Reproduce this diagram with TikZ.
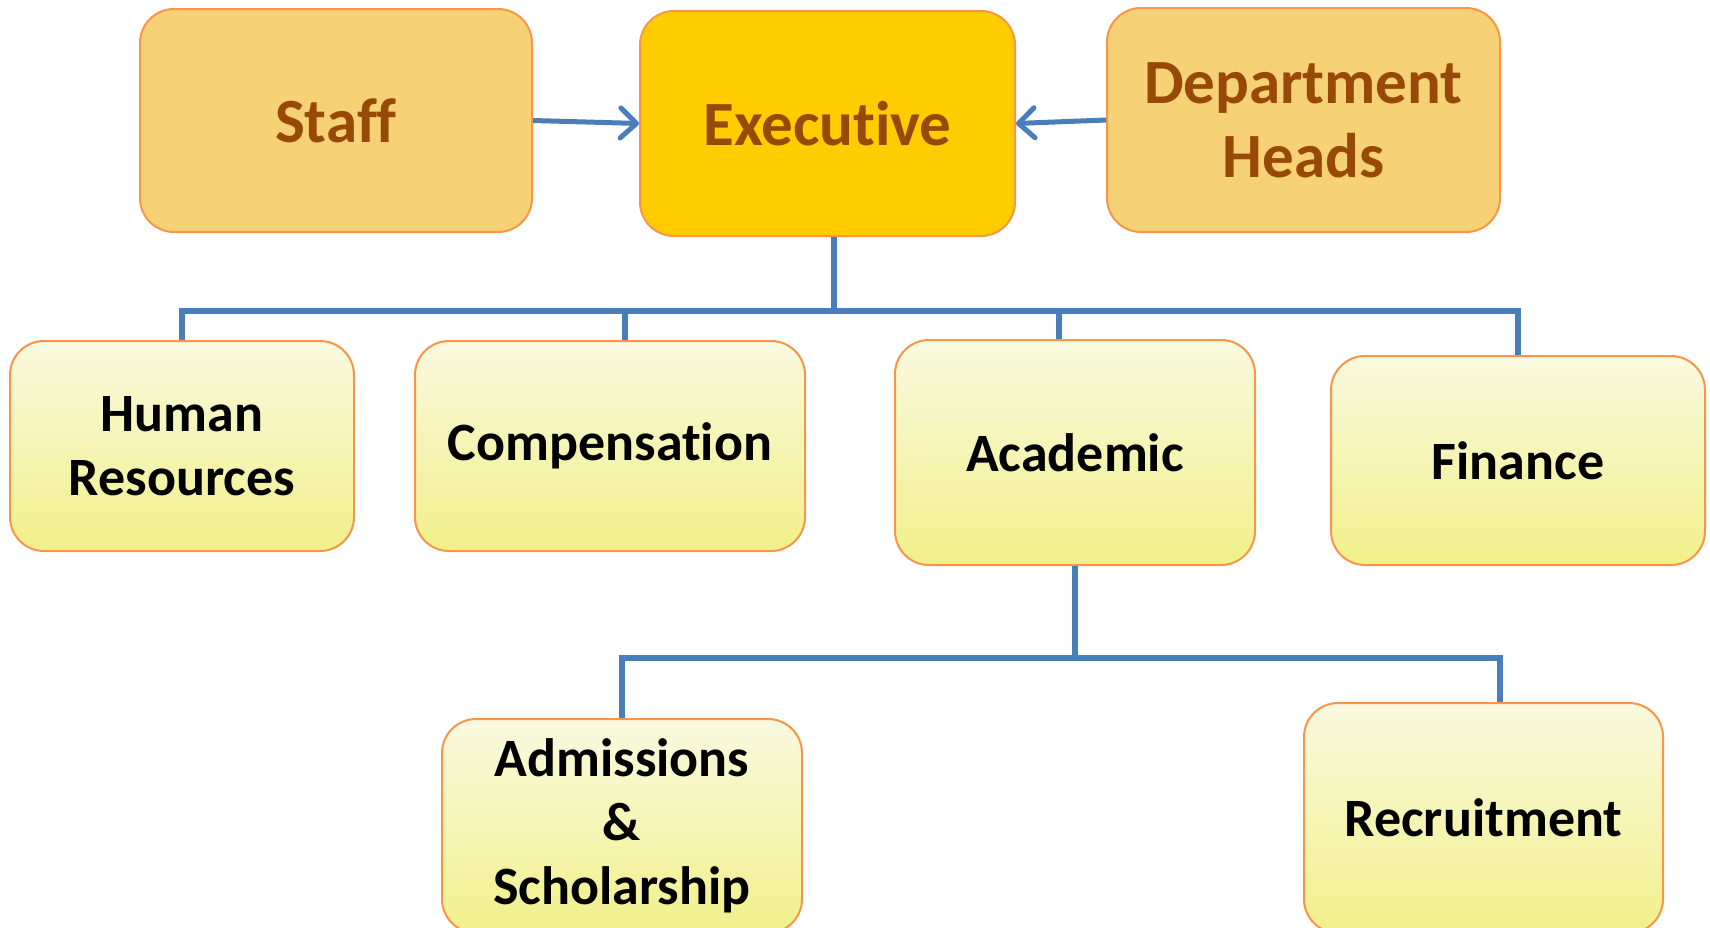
\documentclass[tikz,border=0pt]{standalone}
\usepackage{fontspec}
\setmainfont{Carlito}[Ligatures=NoCommon]
\usetikzlibrary{arrows.meta}

\definecolor{boxline}{HTML}{F79646}
\definecolor{headfill}{HTML}{F7D175}
\definecolor{execfill}{HTML}{FFCC00}
\definecolor{headtext}{HTML}{984807}
\definecolor{unittop}{HTML}{F9F9E0}
\definecolor{unitbottom}{HTML}{F1F08A}
\definecolor{linkblue}{HTML}{4A7EBB}

\tikzset{
  headbox/.style={draw=boxline, line width=2pt, rounded corners=34pt, fill=headfill,
    text=headtext, font=\fontsize{63}{74}\selectfont\bfseries, align=center, inner sep=0pt},
  unitbox/.style={draw=boxline, line width=2pt, rounded corners=34pt,
    top color=unittop, bottom color=unitbottom,
    font=\fontsize{54}{64}\selectfont\bfseries, align=center, inner sep=0pt},
  link/.style={draw=linkblue, line width=5.5pt},
  feed/.style={draw=linkblue, line width=5pt,
    -{Straight Barb[length=16pt,width=30pt,line cap=round,line join=round]}},
}

\begin{document}
\begin{tikzpicture}[x=1pt,y=-1pt]
      \useasboundingbox (0,0) rectangle (1710,927);

      % top row
      \node[headbox, minimum width=392pt, minimum height=223pt] (staff) at (336,120.5) {Staff};
      \node[headbox, fill=execfill, minimum width=375pt, minimum height=225pt] (exec) at (827.5,123.5) {Executive};
      \node[headbox, minimum width=393pt, minimum height=224pt] (heads) at (1303.5,120) {Department\\Heads};

      \draw[feed] (staff.east) -- (exec.west);
      \draw[feed] (heads.west) -- (exec.east);

      % units
      \node[unitbox, minimum width=344pt, minimum height=210pt] (hr) at (182,446) {Human\\Resources};
      \node[unitbox, minimum width=390pt, minimum height=210pt] (comp) at (610,446) {\raisebox{-5pt}{Compensation}};
      \node[unitbox, minimum width=360pt, minimum height=225pt] (acad) at (1075,452.5) {Academic};
      \node[unitbox, minimum width=374pt, minimum height=209pt] (fin) at (1518,460.5) {Finance};

      \coordinate (bus) at (834,311);
      \draw[link] ([xshift=6.5pt]exec.south) -- ([xshift=6.5pt]exec.south |- bus);
      \draw[link] (hr.north) -- (hr.north |- bus) -- (fin.north |- bus) -- (fin.north);
      \draw[link] ([xshift=15pt]comp.north) -- ([xshift=15pt]comp.north |- bus);
      \draw[link] ([xshift=-16pt]acad.north) -- ([xshift=-16pt]acad.north |- bus);

      % academic branch
      \node[unitbox, minimum width=360pt, minimum height=214pt] (adm) at (622,826) {Admissions\\\&\\Scholarship};
      \node[unitbox, minimum width=359pt, minimum height=230pt] (recr) at (1483.5,818) {Recruitment};

      \coordinate (subbus) at (1078,658);
      \draw[link] (acad.south) -- (acad.south |- subbus);
      \draw[link] (adm.north) -- (adm.north |- subbus) -- ([xshift=16.5pt]recr.north |- subbus) -- ([xshift=16.5pt]recr.north);
\end{tikzpicture}
\end{document}
